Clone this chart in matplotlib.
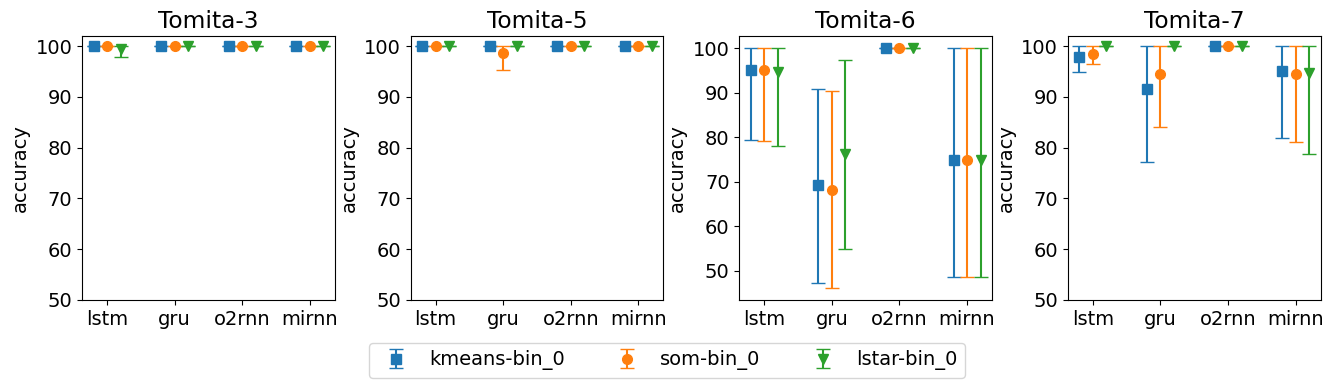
import numpy as np
import matplotlib
matplotlib.use("Agg")
import matplotlib.pyplot as plt

# accuracy per model (mean, min, max) for each method and tomita grammar
models = ["lstm", "gru", "o2rnn", "mirnn"]
methods = ["kmeans-bin_0", "som-bin_0", "lstar-bin_0"]
tasks = ["Tomita-3", "Tomita-5", "Tomita-6", "Tomita-7"]

# Tomita-3
t3_mean = [[100, 100, 100, 100], [100, 100, 100, 100], [99.4, 100, 100, 100]]
t3_min = [[100, 100, 100, 100], [100, 100, 100, 100], [97.8, 100, 100, 100]]
t3_max = [[100, 100, 100, 100], [100, 100, 100, 100], [100, 100, 100, 100]]

# Tomita-5
t5_mean = [[100, 100, 100, 100], [100, 98.7, 100, 100], [100, 100, 100, 100]]
t5_min = [[100, 100, 100, 100], [100, 95.4, 100, 100], [100, 100, 100, 100]]
t5_max = [[100, 100, 100, 100], [100, 100, 100, 100], [100, 100, 100, 100]]

# Tomita-6
t6_mean = [[95.1, 69.2, 100, 74.9], [95.1, 68.2, 100, 74.9], [94.7, 76.2, 100, 75.0]]
t6_min = [[79.4, 47.3, 100, 48.6], [79.1, 46.2, 100, 48.6], [78.0, 55.0, 100, 48.6]]
t6_max = [[100, 90.9, 100, 100], [100, 90.4, 100, 100], [100, 97.3, 100, 100]]

# Tomita-7
t7_mean = [[97.8, 91.5, 100, 95.2], [98.4, 94.5, 100, 94.5], [100, 100, 100, 94.7]]
t7_min = [[94.9, 77.1, 100, 81.9], [96.4, 84.0, 100, 81.1], [100, 100, 100, 78.7]]
t7_max = [[100, 100, 100, 100], [100, 100, 100, 100], [100, 100, 100, 100]]

all_mean = [t3_mean, t5_mean, t6_mean, t7_mean]
all_min = [t3_min, t5_min, t6_min, t7_min]
all_max = [t3_max, t5_max, t6_max, t7_max]

colors = ["#1f77b4", "#ff7f0e", "#2ca02c"]
markers = ["s", "o", "v"]
offsets = [-0.2, 0.0, 0.2]

plt.rcParams["font.size"] = 14

fig, axes = plt.subplots(1, 4, figsize=(13.34, 3.88), dpi=100)
fig.subplots_adjust(left=0.0615, right=0.990, top=0.907, bottom=0.227, wspace=0.30)

x = np.arange(len(models))
handles = []
for k, ax in enumerate(axes):
    for i in range(len(methods)):
        mean = np.array(all_mean[k][i])
        lo = mean - np.array(all_min[k][i])
        hi = np.array(all_max[k][i]) - mean
        h = ax.errorbar(x + offsets[i], mean, yerr=[lo, hi], fmt=markers[i],
                        color=colors[i], capsize=5, markersize=7, elinewidth=1.5,
                        label=methods[i])
        if k == 0:
            handles.append(h)
    ax.set_title(tasks[k], fontsize="large")
    ax.set_ylabel("accuracy")
    ax.set_xticks(x)
    ax.set_xticklabels(models)
    if k != 2:
        ax.set_ylim(50, 102)

fig.legend(handles, methods, loc="lower center", ncol=3, bbox_to_anchor=(0.5, 0.0),
           columnspacing=2.2, handletextpad=0.7)

plt.savefig("out.png")
